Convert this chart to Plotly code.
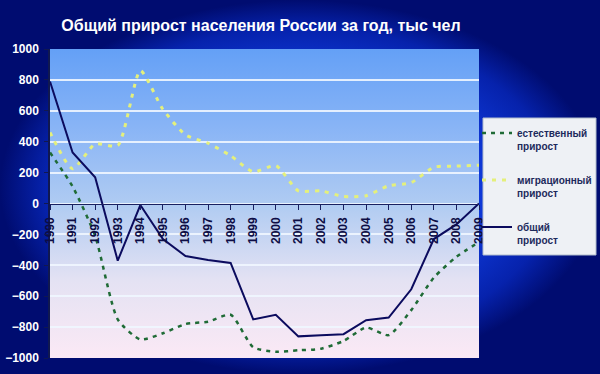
import plotly.graph_objects as go

# ---------------- data ----------------
years = list(range(1990, 2010))
natural = [330, 110, -210, -750, -880, -840, -780, -765, -720, -930,
           -960, -950, -940, -890, -803, -852, -690, -480, -345, -250]
migration = [460, 225, 385, 375, 860, 610, 445, 390, 310, 205,
             245, 82, 82, 45, 50, 115, 135, 235, 242, 248]
total = [790, 330, 170, -370, -10, -230, -340, -365, -385, -750,
         -720, -860, -852, -846, -755, -738, -555, -230, -135, 0]

series_names = ["естественный<br>прирост", "миграционный<br>прирост", "общий<br>прирост"]
title_text = "Общий прирост населения России за год, тыс чел"
y_range = [-1000, 1000]

W, H = 600, 374
# plot area in paper fractions
PX0, PX1 = 50 / W, 479 / W
PY0, PY1 = 1 - 358 / H, 1 - 49 / H
# legend box in paper fractions
LX0, LX1 = 483 / W, 596 / W
LY0, LY1 = 1 - 255 / H, 1 - 118 / H

fig = go.Figure()

# ---- background (paper) radial gradient on a hidden full-page axis ----
fig.add_trace(go.Scatter(
    x=[0, 1, 1, 0, 0], y=[0, 0, 1, 1, 0], xaxis="x", yaxis="y",
    mode="lines", line=dict(width=0), fill="toself",
    fillgradient=dict(type="radial",
                      colorscale=[[0, "#2a6aff"], [0.5, "#1242ea"], [0.85, "#0622ac"], [1, "#000c70"]]),
    hoverinfo="skip", showlegend=False))

# ---- plot-area vertical gradient ----
fig.add_trace(go.Scatter(
    x=[PX0, PX1, PX1, PX0, PX0], y=[PY0, PY0, PY1, PY1, PY0], xaxis="x", yaxis="y",
    mode="lines", line=dict(width=0), fill="toself",
    fillgradient=dict(type="vertical",
                      colorscale=[[0, "#fbe9f5"], [0.25, "#e4e2f3"], [0.5, "#afcbf2"],
                                  [0.75, "#88b4f6"], [1, "#64a0f6"]]),
    hoverinfo="skip", showlegend=False))

# ---- data series ----
fig.add_trace(go.Scatter(
    x=years, y=natural, name=series_names[0], xaxis="x2", yaxis="y2",
    mode="lines", line=dict(color="#1f6b36", width=2.5, dash="4px,5px", shape="spline", smoothing=0.6),
    legendgroup="a"))
fig.add_trace(go.Scatter(
    x=years, y=migration, name=series_names[1], xaxis="x2", yaxis="y2",
    mode="lines", line=dict(color="#e4f07c", width=3, dash="4px,6px", shape="spline", smoothing=0.6),
    legendgroup="b"))
fig.add_trace(go.Scatter(
    x=years, y=total, name=series_names[2], xaxis="x2", yaxis="y2",
    mode="lines", line=dict(color="#0b0b5e", width=2),
    legendgroup="c"))

bold = dict(family="Liberation Sans, Arial, sans-serif", weight="bold")

fig.update_layout(
    width=W, height=H, autosize=False,
    margin=dict(l=0, r=0, t=0, b=0, pad=0, autoexpand=False),
    paper_bgcolor="#000a66",
    plot_bgcolor="rgba(0,0,0,0)",
    title=dict(text=title_text, x=261 / W, y=1 - 25 / H, xref="paper", yref="paper",
               xanchor="center", yanchor="middle", automargin=False,
               font=dict(size=16, color="white", **bold)),
    xaxis=dict(domain=[0, 1], range=[0, 1], visible=False, fixedrange=True, automargin=False),
    yaxis=dict(domain=[0, 1], range=[0, 1], visible=False, fixedrange=True, automargin=False),
    xaxis2=dict(domain=[PX0, PX1], range=[years[0], years[-1]], anchor="free",
                position=(PY0 + PY1) / 2, automargin=False,
                tickvals=years, ticktext=[str(y) for y in years], tickangle=-90,
                showline=True, linecolor="#1a2060", linewidth=1,
                ticks="outside", ticklen=5, tickcolor="#1a2060",
                ticklabelstandoff=3,
                showgrid=False, zeroline=False,
                tickfont=dict(size=12, color="#0d0d45", **bold)),
    yaxis2=dict(domain=[PY0, PY1], range=y_range, anchor="x2", dtick=200, automargin=False,
                showline=True, linecolor="#101850", linewidth=1.5,
                ticks="outside", ticklen=4, tickcolor="#101850",
                ticklabelstandoff=3,
                showgrid=True, gridcolor="rgba(240,246,255,0.9)", gridwidth=1.5,
                zeroline=False,
                tickfont=dict(size=12, color="white", **bold)),
    legend=dict(x=477 / W, y=1 - 120 / H, xanchor="left", yanchor="top",
                bgcolor="rgba(0,0,0,0)", borderwidth=0,
                font=dict(size=10, color="#1c2a5c", **bold),
                traceorder="grouped", tracegroupgap=18, valign="top",
                itemwidth=30),
    shapes=[dict(type="rect", xref="paper", yref="paper",
                 x0=LX0, x1=LX1, y0=LY0, y1=LY1,
                 fillcolor="#eef1f5", line=dict(color="#b0bccc", width=1), layer="above")],
    showlegend=True,
)

fig.write_html(
    "out.html",
    config={"displayModeBar": False},
    post_script="document.body.style.margin='0px';document.body.style.padding='0px';"
                "document.body.style.overflow='hidden';",
)
